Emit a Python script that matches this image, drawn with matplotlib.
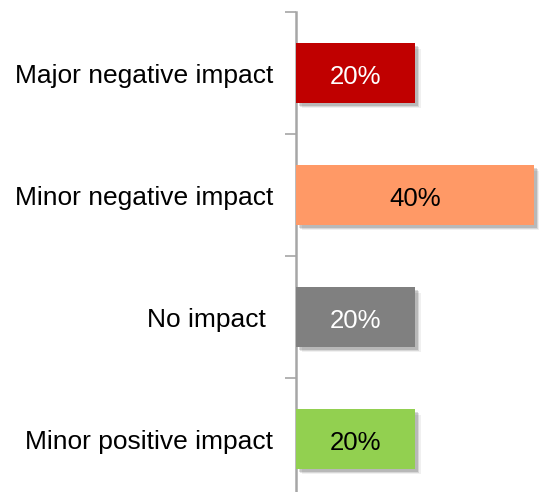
import matplotlib.pyplot as plt
import matplotlib.patheffects as pe

categories = ['Major negative impact', 'Minor negative impact', 'No impact ', 'Minor positive impact']
shares = [20, 40, 20, 20]
bar_colors = ['#C00000', '#FF9966', '#808080', '#92D050']
text_colors = ['white', 'black', 'white', 'black']

plt.rcParams['font.family'] = ['Liberation Sans', 'DejaVu Sans']

fig = plt.figure(figsize=(5.39, 4.92), dpi=100)
# axis spine sits at x=296px, categories are 122px apart starting at y=12px
ax = fig.add_axes([296 / 539, -8 / 492, 243 / 539, 488 / 492])

pos = list(range(len(categories)))
bars = ax.barh(pos, shares, height=0.49, color=bar_colors, zorder=3)
for b in bars:
    b.set_path_effects([
        pe.SimplePatchShadow(offset=(4, -4), shadow_rgbFace='#000000', alpha=0.06),
        pe.SimplePatchShadow(offset=(3, -3), shadow_rgbFace='#000000', alpha=0.10),
        pe.SimplePatchShadow(offset=(2, -2), shadow_rgbFace='#000000', alpha=0.14),
        pe.Normal(),
    ])

for b, v, tc in zip(bars, shares, text_colors):
    ax.text(b.get_width() / 2, b.get_y() + b.get_height() / 2 + 0.03, f'{v}%',
            ha='center', va='center', color=tc, fontsize=18.5, zorder=4)

ax.set_ylim(len(categories) - 0.5, -0.5)
ax.set_xlim(0, 40.8)
ax.set_yticks([p - 0.5 for p in pos] + [len(categories) - 0.5])
ax.set_yticklabels([])
ax.set_yticks(pos, minor=True)
ax.set_yticklabels(categories, minor=True, fontsize=19)
ax.tick_params(axis='y', which='minor', length=0, pad=16.5)
ax.tick_params(axis='y', which='major', length=8, width=1.2, color='#A6A6A6')
ax.set_xticks([])

for side in ['top', 'right', 'bottom']:
    ax.spines[side].set_visible(False)
ax.spines['left'].set_color('#A6A6A6')
ax.spines['left'].set_linewidth(1.8)

fig.savefig('out.png', dpi=100)
